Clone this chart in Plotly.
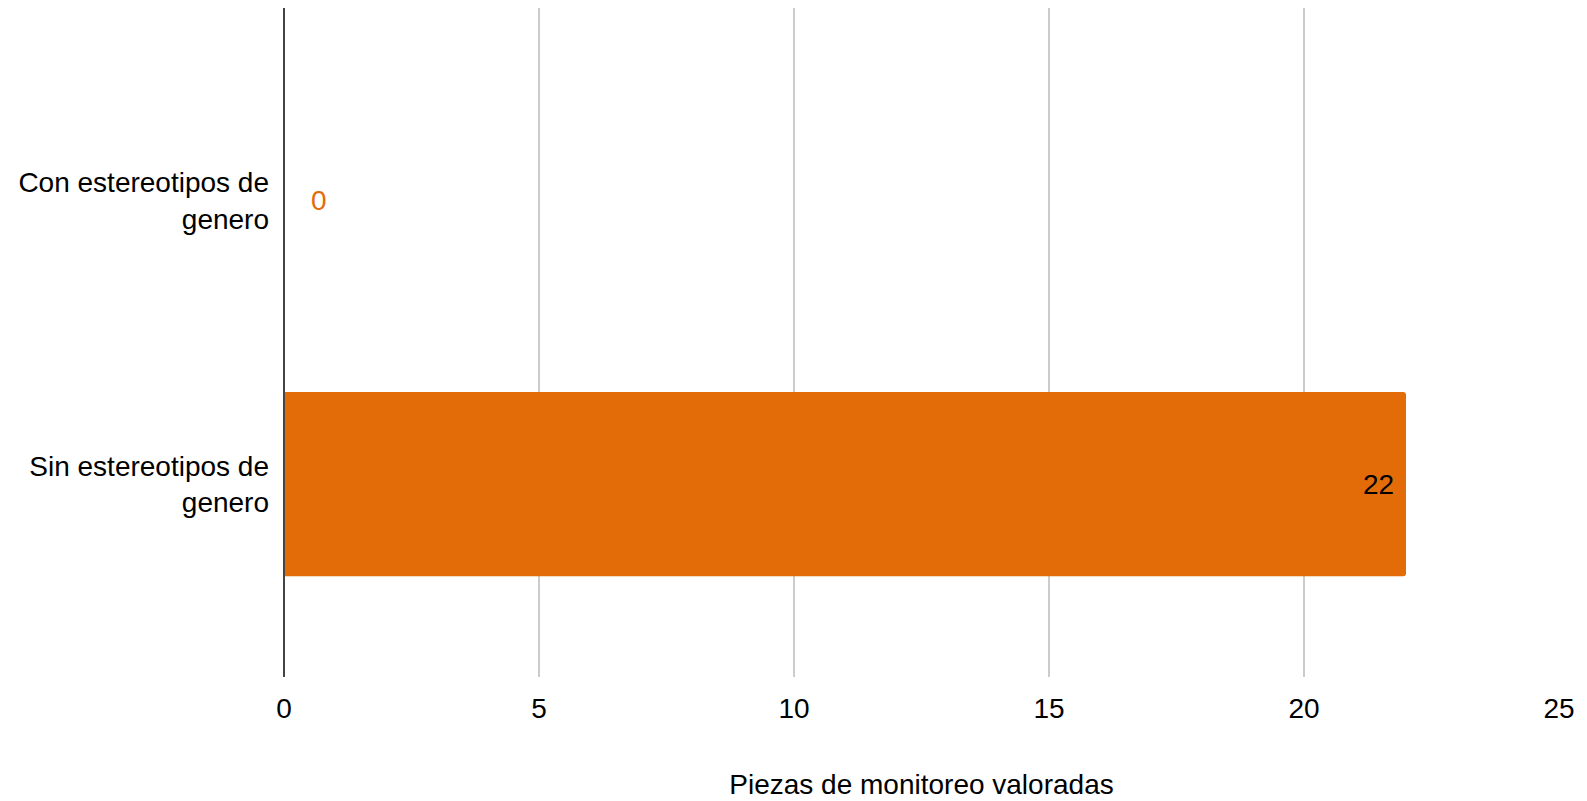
import plotly.graph_objects as go

categories = ["Con estereotipos de genero", "Sin estereotipos de genero"]
tick_labels = ["Con estereotipos de<br>genero", "Sin estereotipos de<br>genero"]
values = [0, 22]
label_colors = ["#E36C09", "#000000"]
x_ticks = [0, 5, 10, 15, 20, 25]

BAR = "#E36C09"
FONT = "Liberation Sans, Arial, sans-serif"
FS = 28

fig = go.Figure()
fig.add_trace(go.Bar(
    x=values, y=categories, orientation="h",
    marker=dict(color=BAR, line=dict(width=0)),
    width=0.65, hoverinfo="x+y",
))

annotations = []
for c, v, col in zip(categories, values, label_colors):
    if v == 0:
        annotations.append(dict(x=v, y=c, xref="x", yref="y", text=str(v),
                                showarrow=False, xanchor="left", xshift=25,
                                font=dict(family=FONT, size=FS, color=col)))
    else:
        annotations.append(dict(x=v, y=c, xref="x", yref="y", text=str(v),
                                showarrow=False, xanchor="right", xshift=-10,
                                font=dict(family=FONT, size=FS, color=col)))

fig.update_layout(
    width=1579, height=793,
    margin=dict(l=276, r=28, t=0, b=124),
    paper_bgcolor="white", plot_bgcolor="white",
    font=dict(family=FONT, size=FS, color="#000000"),
    showlegend=False,
    barcornerradius=3,
    annotations=annotations,
    xaxis=dict(
        range=[0, 25], tickvals=x_ticks, ticktext=[str(t) for t in x_ticks],
        showgrid=True, gridcolor="#cccccc", gridwidth=2,
        zeroline=False, showline=False, ticks="", ticklabelstandoff=12,
        tickfont=dict(family=FONT, size=FS, color="#000000"),
        title=dict(text="Piezas de monitoreo valoradas", standoff=51,
                   font=dict(family=FONT, size=FS, color="#000000")),
    ),
    yaxis=dict(
        type="category", range=[1.68, -0.68],
        tickvals=categories, ticktext=tick_labels,
        showgrid=False, zeroline=False, ticks="", ticklabelstandoff=14,
        showline=False,
        tickfont=dict(family=FONT, size=FS, color="#000000"),
    ),
    shapes=[dict(type="line", xref="paper", yref="paper", x0=0, x1=0, y0=0, y1=1,
                 line=dict(color="#444444", width=2), layer="above")],
)

fig.write_html("out.html")
